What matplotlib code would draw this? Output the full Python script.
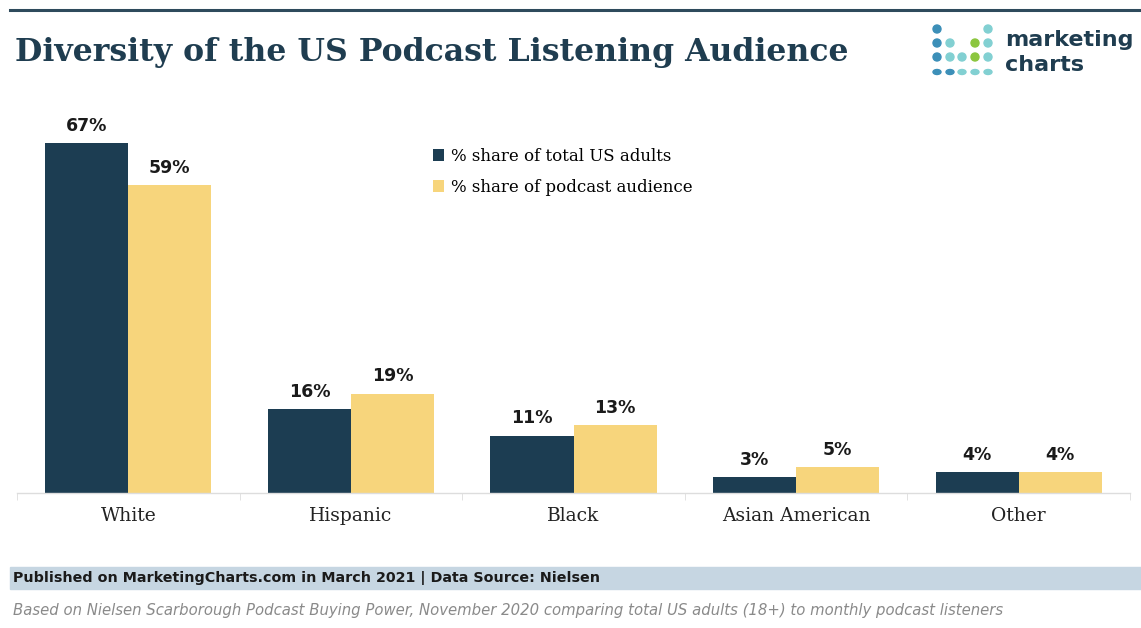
import matplotlib
matplotlib.use("Agg")
import matplotlib.pyplot as plt
from matplotlib.patches import Rectangle, Ellipse
from matplotlib.lines import Line2D
import numpy as np

categories = ["White", "Hispanic", "Black", "Asian American", "Other"]
us_adults = [67, 16, 11, 3, 4]
podcast = [59, 19, 13, 5, 4]
series_names = ["% share of total US adults", "% share of podcast audience"]

DARK = "#1c3d52"
YELLOW = "#f7d57c"

W, H = 1141, 628
fig = plt.figure(figsize=(W / 100, H / 100), dpi=100)
fig.patch.set_facecolor("white")

def fx(px):
    return px / W

def fy(py):
    return 1 - py / H

# top rule
fig.add_artist(Line2D([fx(10), 1], [fy(10), fy(10)], color="#2e4a5c", lw=2.2))

# title
fig.text(fx(15), fy(52), "Diversity of the US Podcast Listening Audience",
         fontsize=22.7, fontweight="bold", family="DejaVu Serif",
         color="#1f3d50", va="center", ha="left")

# logo
dot_cols = [937, 950, 962, 975, 988]
dot_rows = [29, 43, 57, 72]
blue, teal, green = "#3c8fb8", "#82d0d2", "#8cc63f"
pattern = [
    [blue, None, None, None, teal],
    [blue, teal, None, green, teal],
    [blue, teal, teal, green, teal],
    [blue, blue, teal, teal, teal],
]
for r, row in enumerate(pattern):
    for c, colr in enumerate(row):
        if colr is None:
            continue
        h = 8 if r < 3 else 5
        fig.add_artist(Ellipse((fx(dot_cols[c]), fy(dot_rows[r])), 8 / W, h / H,
                               color=colr, transform=fig.transFigure))
fig.text(fx(1005), fy(40), "marketing", fontsize=16, fontweight="bold",
         family="DejaVu Sans", color="#1f3d50", va="center", ha="left")
fig.text(fx(1005), fy(65), "charts", fontsize=16, fontweight="bold",
         family="DejaVu Sans", color="#1f3d50", va="center", ha="left")

# axes
ax = fig.add_axes([fx(17), fy(493), fx(1130) - fx(17), (fy(101.5) - fy(493))])
x = np.arange(len(categories))
bw = 0.373
b1 = ax.bar(x - bw / 2, us_adults, bw, color=DARK, label=series_names[0])
b2 = ax.bar(x + bw / 2, podcast, bw, color=YELLOW, label=series_names[1])
ax.set_xlim(-0.5, len(categories) - 0.5)
ax.set_ylim(0, 75)
for bars, vals in ((b1, us_adults), (b2, podcast)):
    for rect, v in zip(bars, vals):
        ax.annotate(f"{v}%", (rect.get_x() + rect.get_width() / 2, v),
                    xytext=(0, 6), textcoords="offset points",
                    ha="center", va="bottom", fontsize=12.5, fontweight="bold",
                    family="DejaVu Sans", color="#1a1a1a")
for s in ["top", "right", "left"]:
    ax.spines[s].set_visible(False)
ax.spines["bottom"].set_color("#dddddd")
ax.spines["bottom"].set_linewidth(1)
ax.set_yticks([])
ax.set_xticks(np.arange(len(categories) + 1) - 0.5, minor=True)
ax.set_xticks(x)
ax.set_xticklabels(categories, fontsize=13.5, family="DejaVu Serif", color="#222222")
ax.tick_params(axis="x", which="major", length=0, pad=10)
ax.tick_params(axis="x", which="minor", length=5, color="#dddddd")
ax.set_facecolor("none")

leg = ax.legend(loc="upper left", bbox_to_anchor=((426 - 17) / (1130 - 17), 1 - (141 - 101.5) / (493 - 101.5)),
                frameon=False, handlelength=0.7, handleheight=0.7,
                handletextpad=0.4, labelspacing=0.85, borderaxespad=0,
                prop={"family": "DejaVu Serif", "size": 12})

# footer band
fig.add_artist(Rectangle((fx(10), fy(589)), 1 - fx(10), (589 - 567) / H,
                         color="#c6d6e2", transform=fig.transFigure, zorder=0))
fig.text(fx(13), fy(578), "Published on MarketingCharts.com in March 2021 | Data Source: Nielsen",
         fontsize=10.3, fontweight="bold", family="DejaVu Sans",
         color="#1a1a1a", va="center", ha="left")
fig.text(fx(13), fy(611),
         "Based on Nielsen Scarborough Podcast Buying Power, November 2020 comparing total US adults (18+) to monthly podcast listeners",
         fontsize=10.7, style="italic", family="DejaVu Sans Condensed",
         color="#8a8a8a", va="center", ha="left")

fig.savefig("out.png", dpi=100, facecolor="white")
